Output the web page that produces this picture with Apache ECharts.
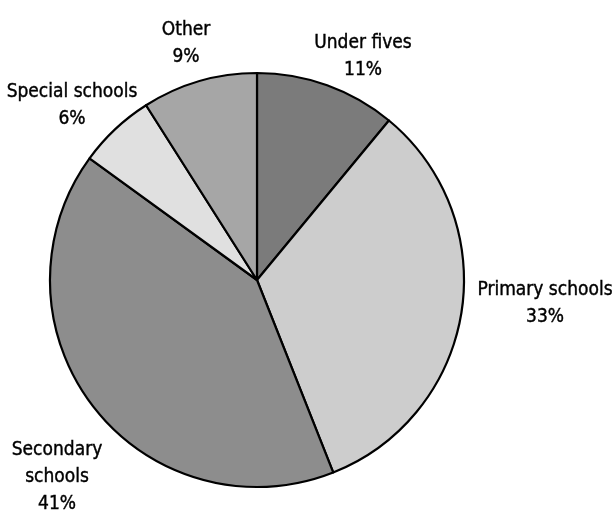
<!DOCTYPE html>
<html>
<head>
<meta charset="utf-8">
<script src="https://cdn.jsdelivr.net/npm/echarts@6/dist/echarts.min.js"></script>
<style>
  html, body { margin: 0; padding: 0; background: #fff; }
  #chart { width: 612px; height: 513px; }
</style>
</head>
<body>
<div id="chart"></div>
<script>
// data, clockwise from 12 o'clock
const sectors = ['Under fives', 'Primary schools', 'Secondary schools', 'Special schools', 'Other'];
const shares = [11, 33, 41, 6, 9];
const labelText = ['Under fives\n11%', 'Primary schools\n33%', 'Secondary\nschools\n41%', 'Special schools\n6%', 'Other\n9%'];

// grey fills, one per sector
const fills = ['#7b7b7b', '#cdcdcd', '#8d8d8d', '#e0e0e0', '#a6a6a6'];
// where each label block is centred (px)
const labelSpots = [[363, 57], [545, 304], [57, 477], [72, 106], [186, 44]];

const chart = echarts.init(document.getElementById('chart'));

chart.setOption({
    animation: false,
    series: [{
        type: 'pie',
        center: [257, 280],
        radius: 207,
        startAngle: 90,
        clockwise: true,
        silent: true,
        itemStyle: { borderColor: '#000', borderWidth: 2.2 },
        label: {
            show: true,
            position: 'outside',
            color: '#000',
            fontFamily: '"DejaVu Sans Condensed", sans-serif',
            fontSize: 19,
            lineHeight: 27,
            align: 'center',
            overflow: 'none',
            width: 200,
            textBorderColor: '#000',
            textBorderWidth: 0.4,
            formatter: p => labelText[p.dataIndex]
        },
        labelLine: { show: false },
        labelLayout: p => ({
            x: labelSpots[p.dataIndex][0],
            y: labelSpots[p.dataIndex][1],
            align: 'center',
            verticalAlign: 'middle'
        }),
        data: sectors.map((name, i) => ({
            name: name,
            value: shares[i],
            itemStyle: { color: fills[i] }
        }))
    }]
});
</script>
</body>
</html>
